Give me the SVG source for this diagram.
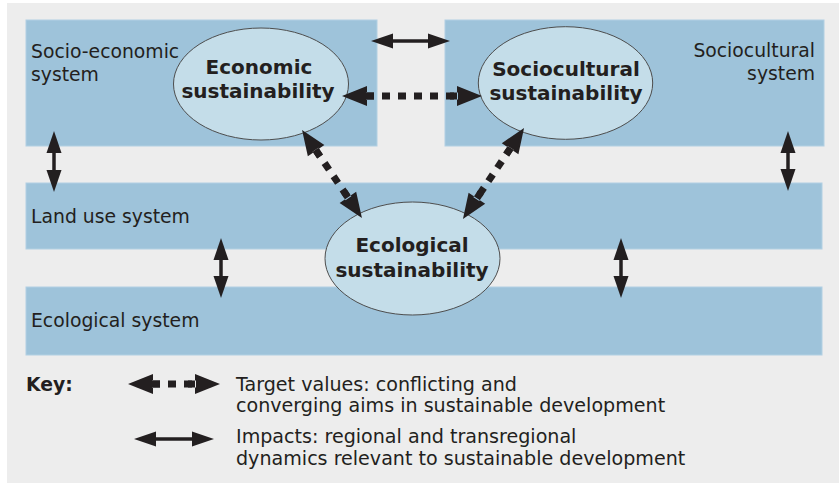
<svg xmlns="http://www.w3.org/2000/svg" width="839" height="484" viewBox="0 0 839 484">
<style>
.box{fill:#9ec3da;stroke:#b2d0e3;stroke-width:1}
.ell{fill:#c4dde9;stroke:#4d4d4d;stroke-width:1}
.lbl{font-family:"DejaVu Sans",sans-serif;font-size:18.8px;fill:#231f20}
.kt{font-family:"DejaVu Sans",sans-serif;font-size:19.1px;fill:#231f20}
.bld{font-family:"DejaVu Sans",sans-serif;font-size:20px;font-weight:bold;fill:#231f20;text-anchor:middle}
.key{font-family:"DejaVu Sans",sans-serif;font-size:18.8px;font-weight:bold;fill:#231f20}
.solid{stroke:#231f20;stroke-width:3.5;fill:none;marker-start:url(#sh);marker-end:url(#sh)}
.dot{stroke:#231f20;stroke-width:7;fill:none;stroke-dasharray:8 8;stroke-dashoffset:12;marker-start:url(#dh);marker-end:url(#dh)}
</style>
<defs>
<marker id="sh" markerUnits="userSpaceOnUse" orient="auto-start-reverse" refX="0" refY="0" markerWidth="40" markerHeight="40" overflow="visible">
<path d="M16,0 L-6,-7.5 L-6,7.5 Z" fill="#231f20"/>
</marker>
<marker id="dh" markerUnits="userSpaceOnUse" orient="auto-start-reverse" refX="0" refY="0" markerWidth="50" markerHeight="50" overflow="visible">
<path d="M20,0 L-5,-10 L-5,10 Z M-12,-3.5 L-4,-3.5 L-4,3.5 L-12,3.5 Z" fill="#231f20"/>
</marker>
</defs>
<rect x="0" y="0" width="839" height="484" fill="#ffffff"/>
<rect x="7" y="3" width="832" height="480" fill="#ededed"/>

<g id="socio-economic-system">
<rect class="box" x="26" y="20" width="351" height="126"/>
<text class="lbl" x="31" y="58">Socio-economic</text>
<text class="lbl" x="31" y="81">system</text>
</g>
<g id="sociocultural-system">
<rect class="box" x="445" y="20" width="379" height="126"/>
<text class="lbl" x="815" y="57" text-anchor="end">Sociocultural</text>
<text class="lbl" x="815" y="80" text-anchor="end">system</text>
</g>
<g id="land-use-system">
<rect class="box" x="26" y="183" width="796" height="66"/>
<text class="lbl" x="31" y="223">Land use system</text>
</g>
<g id="ecological-system">
<rect class="box" x="26" y="287" width="796" height="68"/>
<text class="lbl" x="31" y="327">Ecological system</text>
</g>

<g id="economic-sustainability">
<ellipse class="ell" cx="261" cy="84" rx="87.5" ry="56"/>
<text class="bld" x="259" y="74">Economic</text>
<text class="bld" x="258" y="98">sustainability</text>
</g>
<g id="sociocultural-sustainability">
<ellipse class="ell" cx="565.5" cy="83" rx="87.2" ry="56.3"/>
<text class="bld" x="566" y="76">Sociocultural</text>
<text class="bld" x="566" y="100">sustainability</text>
</g>
<g id="ecological-sustainability">
<ellipse class="ell" cx="412.5" cy="258.5" rx="87.5" ry="56.5"/>
<text class="bld" x="412" y="252">Ecological</text>
<text class="bld" x="412" y="277">sustainability</text>
</g>

<g id="connectors">
<line class="solid" x1="387" y1="41" x2="434" y2="41"/>
<line class="solid" x1="54" y1="147" x2="54" y2="176"/>
<line class="solid" x1="788" y1="147" x2="788" y2="175"/>
<line class="solid" x1="221" y1="254" x2="221" y2="282"/>
<line class="solid" x1="621" y1="254" x2="621" y2="282"/>
<line class="dot" x1="362" y1="96" x2="462" y2="96"/>
<line class="dot" x1="313.3" y1="146.5" x2="350.7" y2="201.5"/>
<line class="dot" x1="512.9" y1="144.6" x2="474.1" y2="202.4"/>
</g>

<g id="key">
<text class="key" x="26" y="391">Key:</text>
<line class="dot" x1="148" y1="384" x2="200" y2="384"/>
<line class="solid" x1="150" y1="439" x2="198" y2="439"/>
<text class="kt" x="236" y="391">Target values: conflicting and</text>
<text class="kt" x="236" y="412">converging aims in sustainable development</text>
<text class="kt" x="236" y="443">Impacts: regional and transregional</text>
<text class="kt" x="236" y="465">dynamics relevant to sustainable development</text>
</g>
</svg>
